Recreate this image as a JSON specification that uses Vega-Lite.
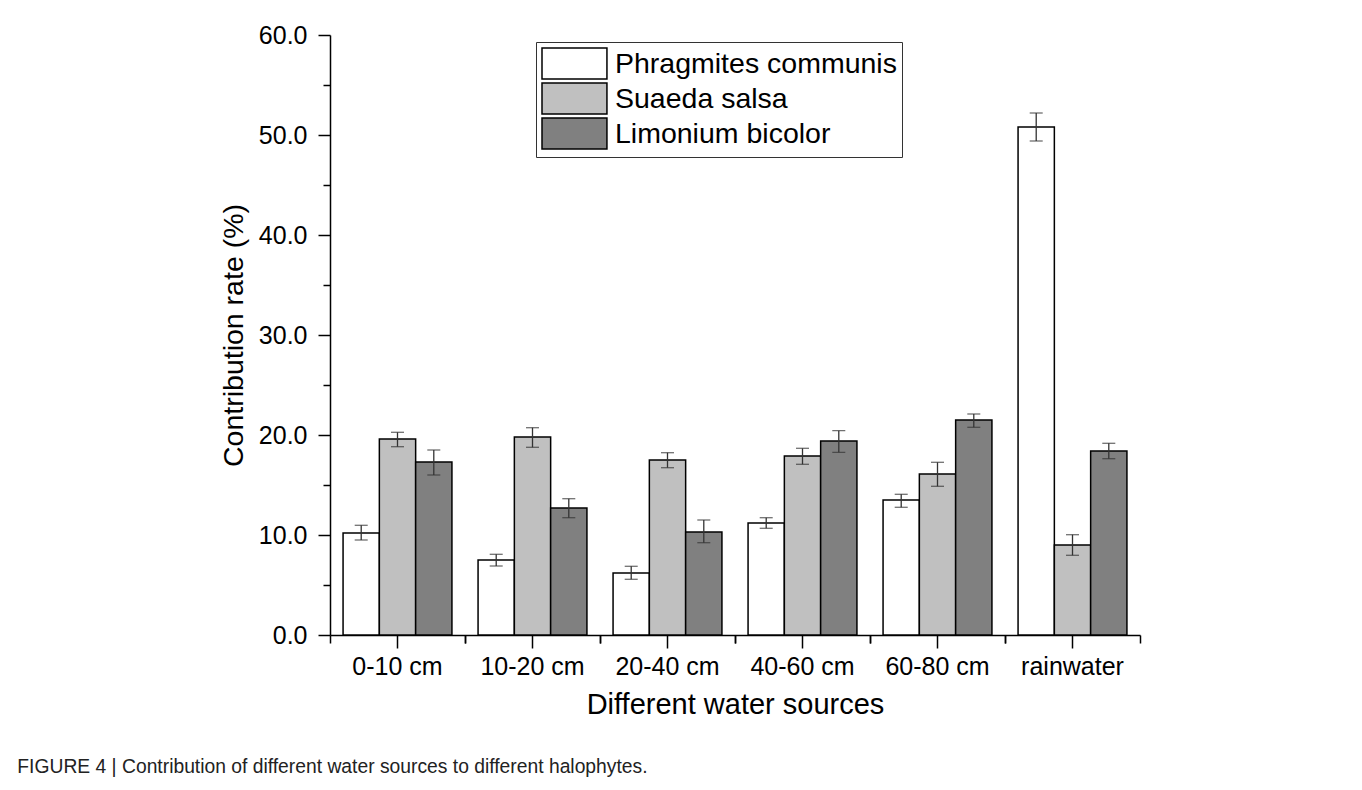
{
  "$schema": "https://vega.github.io/schema/vega-lite/v6.json",
  "width": 810,
  "height": 600,
  "autosize": {"type": "none"},
  "padding": {"left": 330, "top": 35, "right": 222, "bottom": 155},
  "background": "white",
  "config": {
    "font": "Liberation Sans",
    "view": {"stroke": null},
    "axis": {
      "labelFont": "Liberation Sans",
      "titleFont": "Liberation Sans",
      "domainColor": "black",
      "tickColor": "black",
      "labelColor": "black",
      "titleColor": "black",
      "domainWidth": 1.5,
      "tickWidth": 1.5,
      "grid": false,
      "titleFontWeight": "normal"
    }
  },
  "title": {
    "text": "FIGURE 4 | Contribution of different water sources to different halophytes.",
    "orient": "bottom",
    "anchor": "start",
    "frame": "bounds",
    "fontSize": 19.3,
    "fontWeight": "normal",
    "color": "#222222",
    "font": "Liberation Sans",
    "dx": -202,
    "offset": 39
  },
  "data": {
    "values": [
      {"source": "0-10 cm", "species": "Phragmites communis", "value": 10.2, "lo": 9.5, "hi": 10.97},
      {"source": "0-10 cm", "species": "Suaeda salsa", "value": 19.6, "lo": 18.83, "hi": 20.27},
      {"source": "0-10 cm", "species": "Limonium bicolor", "value": 17.3, "lo": 16.0, "hi": 18.5},
      {"source": "10-20 cm", "species": "Phragmites communis", "value": 7.5, "lo": 6.9, "hi": 8.07},
      {"source": "10-20 cm", "species": "Suaeda salsa", "value": 19.8, "lo": 18.77, "hi": 20.73},
      {"source": "10-20 cm", "species": "Limonium bicolor", "value": 12.7, "lo": 11.73, "hi": 13.63},
      {"source": "20-40 cm", "species": "Phragmites communis", "value": 6.2, "lo": 5.57, "hi": 6.87},
      {"source": "20-40 cm", "species": "Suaeda salsa", "value": 17.5, "lo": 16.73, "hi": 18.23},
      {"source": "20-40 cm", "species": "Limonium bicolor", "value": 10.3, "lo": 9.23, "hi": 11.5},
      {"source": "40-60 cm", "species": "Phragmites communis", "value": 11.2, "lo": 10.67, "hi": 11.73},
      {"source": "40-60 cm", "species": "Suaeda salsa", "value": 17.9, "lo": 17.07, "hi": 18.67},
      {"source": "40-60 cm", "species": "Limonium bicolor", "value": 19.4, "lo": 18.27, "hi": 20.43},
      {"source": "60-80 cm", "species": "Phragmites communis", "value": 13.5, "lo": 12.77, "hi": 14.07},
      {"source": "60-80 cm", "species": "Suaeda salsa", "value": 16.1, "lo": 14.87, "hi": 17.27},
      {"source": "60-80 cm", "species": "Limonium bicolor", "value": 21.5, "lo": 20.77, "hi": 22.1},
      {"source": "rainwater", "species": "Phragmites communis", "value": 50.8, "lo": 49.4, "hi": 52.2},
      {"source": "rainwater", "species": "Suaeda salsa", "value": 9.0, "lo": 7.97, "hi": 10.03},
      {"source": "rainwater", "species": "Limonium bicolor", "value": 18.4, "lo": 17.63, "hi": 19.17}
    ]
  },
  "layer": [
    {
      "mark": {"type": "bar", "stroke": "black", "strokeWidth": 1.5},
      "encoding": {
        "x": {
          "field": "source", "type": "nominal", "sort": null,
          "scale": {"paddingInner": 0, "paddingOuter": 0},
          "axis": {"orient": "bottom", "title": "Different water sources", "labelAngle": 0, "labelFontSize": 25, "tickSize": 13, "labelPadding": 6, "titleFontSize": 29, "titlePadding": 11}
        },
        "xOffset": {
          "field": "species", "type": "nominal", "sort": null,
          "scale": {"domain": ["Phragmites communis", "Suaeda salsa", "Limonium bicolor"], "paddingInner": 0, "paddingOuter": 0.36}
        },
        "y": {
          "field": "value", "type": "quantitative",
          "scale": {"domain": [0, 60], "nice": false},
          "axis": {"orient": "left", "values": [0, 10, 20, 30, 40, 50, 60], "format": ".1f", "tickSize": 12, "labelFontSize": 25, "labelPadding": 11, "title": "Contribution rate (%)", "titleFontSize": 28.5, "titlePadding": 10}
        },
        "fill": {
          "field": "species", "type": "nominal", "sort": null,
          "scale": {"domain": ["Phragmites communis", "Suaeda salsa", "Limonium bicolor"], "range": ["#ffffff", "#c0c0c0", "#808080"]},
          "legend": {
            "orient": "none", "legendX": 206, "legendY": 7, "title": null,
            "symbolType": "M-1,-1H3.19V1H-1Z", "symbolSize": 961,
            "symbolStrokeColor": "black", "symbolStrokeWidth": 1.5, "symbolOpacity": 1,
            "labelFontSize": 28.5, "labelFont": "Liberation Sans", "labelColor": "black",
            "labelOffset": 41, "labelLimit": 0, "rowPadding": -2, "padding": 5,
            "strokeColor": "#333333"
          }
        }
      }
    },
    {
      "mark": {"type": "rule", "color": "#333333", "strokeWidth": 1.3},
      "encoding": {
        "x": {
          "field": "source", "type": "nominal", "sort": null,
          "scale": {"paddingInner": 0, "paddingOuter": 0},
          "axis": {"orient": "bottom", "bandPosition": 0, "labels": false, "domain": false, "tickSize": 8, "title": null}
        },
        "xOffset": {
          "field": "species", "type": "nominal", "sort": null,
          "scale": {"domain": ["Phragmites communis", "Suaeda salsa", "Limonium bicolor"], "paddingInner": 0, "paddingOuter": 0.36}
        },
        "y": {
          "field": "lo", "type": "quantitative",
          "scale": {"domain": [0, 60], "nice": false},
          "axis": {"orient": "left", "values": [5, 15, 25, 35, 45, 55], "labels": false, "domain": false, "tickSize": 7, "title": null}
        },
        "y2": {"field": "hi"}
      }
    },
    {
      "mark": {"type": "tick", "color": "#333333", "size": 13, "thickness": 1.3},
      "encoding": {
        "x": {
          "field": "source", "type": "nominal", "sort": null,
          "scale": {"paddingInner": 0, "paddingOuter": 0},
          "axis": {"orient": "bottom", "bandPosition": 1, "labels": false, "domain": false, "tickSize": 8, "title": null}
        },
        "xOffset": {
          "field": "species", "type": "nominal", "sort": null,
          "scale": {"domain": ["Phragmites communis", "Suaeda salsa", "Limonium bicolor"], "paddingInner": 0, "paddingOuter": 0.36}
        },
        "y": {"field": "lo", "type": "quantitative", "scale": {"domain": [0, 60], "nice": false}, "axis": null}
      }
    },
    {
      "mark": {"type": "tick", "color": "#333333", "size": 13, "thickness": 1.3},
      "encoding": {
        "x": {
          "field": "source", "type": "nominal", "sort": null,
          "scale": {"paddingInner": 0, "paddingOuter": 0},
          "axis": null
        },
        "xOffset": {
          "field": "species", "type": "nominal", "sort": null,
          "scale": {"domain": ["Phragmites communis", "Suaeda salsa", "Limonium bicolor"], "paddingInner": 0, "paddingOuter": 0.36}
        },
        "y": {"field": "hi", "type": "quantitative", "scale": {"domain": [0, 60], "nice": false}, "axis": null}
      }
    }
  ],
  "resolve": {"axis": {"x": "independent", "y": "independent"}}
}
